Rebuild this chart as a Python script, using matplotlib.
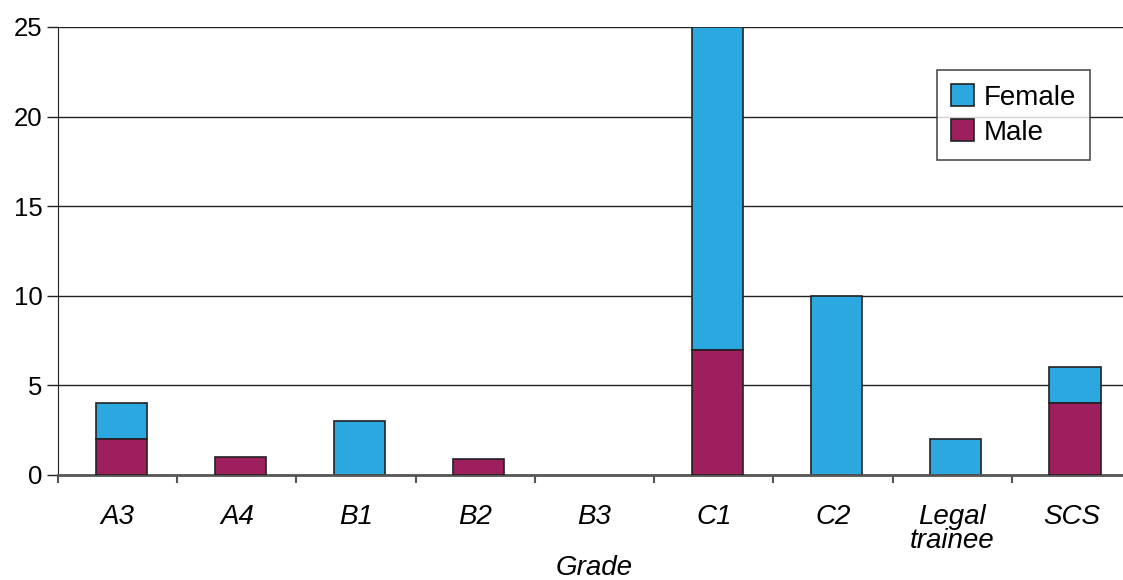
import matplotlib.pyplot as plt
import numpy as np

grades = ['A3', 'A4', 'B1', 'B2', 'B3', 'C1', 'C2', 'Legal\ntrainee', 'SCS']
male = [2, 1, 0, 0.9, 0, 7, 0, 0, 4]
female = [2, 0, 3, 0, 0, 18, 10, 2, 2]

blue = '#2BA8E0'
purple = '#9E1F5E'
edge = '#222222'

plt.rcParams['font.family'] = ['Liberation Sans', 'DejaVu Sans']

fig = plt.figure(figsize=(11.23, 5.8), dpi=100)
# plot area runs a little past the right edge of the canvas
ax = fig.add_axes([58/1123, 105/580, 1073/1123, 448/580])

x = np.arange(len(grades))
male = np.array(male)
female = np.array(female)
w = 0.43
xb = x + 0.03

for yv in [5, 10, 15, 20, 25]:
    ax.axhline(yv, color='#222222', lw=1.0, zorder=1)

m = male > 0
f = female > 0
ax.bar(xb[m], male[m], width=w, color=purple, edgecolor=edge, linewidth=1.2, zorder=3, label='Male')
ax.bar(xb[f], female[f], width=w, bottom=male[f], color=blue, edgecolor=edge, linewidth=1.2, zorder=2, label='Female')

ax.set_xlim(-0.5, len(grades) - 0.5)
ax.set_ylim(0, 25)
ax.set_yticks([0, 5, 10, 15, 20, 25])
ax.tick_params(axis='y', labelsize=18.5, length=8, width=1, color='#222222', pad=3)

ax.set_xticks(x)
ax.set_xticklabels(grades, fontsize=20, style='italic', linespacing=0.9)
ax.tick_params(axis='x', which='major', length=0, pad=21)
ax.set_xticks(np.arange(-0.5, len(grades)), minor=True)
ax.tick_params(axis='x', which='minor', length=6, width=1.5, color='#555555')
ax.set_xlabel('Grade', fontsize=20, style='italic', va='center')
ax.xaxis.set_label_coords(0.5, -0.208)

for s in ['top', 'right']:
    ax.spines[s].set_visible(False)
ax.spines['left'].set_color('#222222')
ax.spines['bottom'].set_color('#555555')
ax.spines['bottom'].set_linewidth(2)

handles, labels = ax.get_legend_handles_labels()
leg = ax.legend(handles[::-1], labels[::-1], loc='upper left', bbox_to_anchor=(0.819, 0.904),
                fontsize=20, frameon=True, fancybox=False, edgecolor='#222222',
                handlelength=0.85, handleheight=0.85, handletextpad=0.35, borderpad=0.5,
                labelspacing=0.3, borderaxespad=0)
leg.get_frame().set_linewidth(1.2)

fig.savefig('out.png', dpi=100)
